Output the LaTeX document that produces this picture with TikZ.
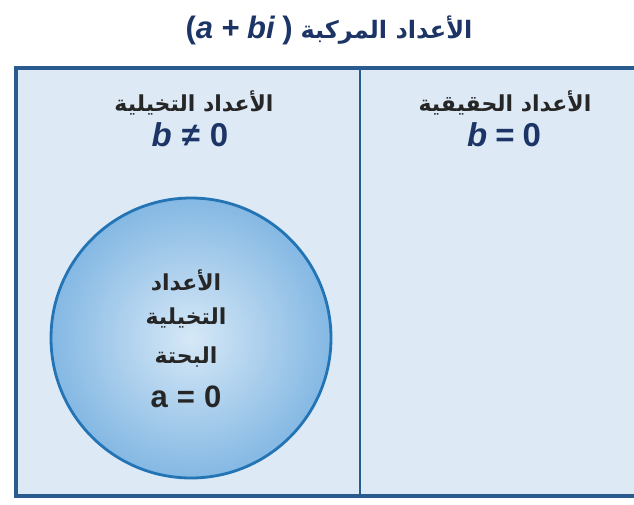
\documentclass[tikz,border=0pt]{standalone}
\usepackage{fontspec}
\setmainfont{Liberation Sans}
\newfontfamily\arabicfont[Script=Arabic]{DejaVu Sans}
\TeXXeTstate=1
\definecolor{boxfill}{HTML}{DDE9F5}
\definecolor{boxline}{HTML}{2A5B8E}
\definecolor{circline}{HTML}{2374B5}
\definecolor{circin}{HTML}{D6E8F7}
\definecolor{circout}{HTML}{84B8E3}
\definecolor{titlecol}{HTML}{1C3566}
\definecolor{txt}{HTML}{262626}
\tikzset{
  titletext/.style={text=titlecol, font=\fontsize{24}{28}\selectfont\bfseries, inner sep=0pt},
  headtext/.style={text=txt, font=\fontsize{22}{26}\selectfont\bfseries, inner sep=0pt},
  eqtext/.style={text=titlecol, font=\fontsize{33}{38}\selectfont\bfseries, inner sep=0pt},
  circtext/.style={text=txt, font=\fontsize{22}{25}\selectfont\bfseries, inner sep=0pt},
  circeq/.style={text=txt, font=\fontsize{31}{35}\selectfont\bfseries, inner sep=0pt},
  setcircle/.style={circle, draw=circline, line width=2.8pt, inner color=circin, outer color=circout, minimum size=280pt, inner sep=0pt}
}
\begin{document}
\begin{tikzpicture}[x=1pt,y=-1pt]
\useasboundingbox (0,0) rectangle (634,504);
\fill[white] (0,0) rectangle (634,504);
\node[titletext] (title) at (329,30) {{\fontsize{31}{34}\selectfont(\textit{a\hspace{8pt}+\hspace{8pt}bi}\hspace{7pt})}\hspace{8pt}{\arabicfont\beginR الأعداد المركبة\endR}};
\fill[boxfill] (16,68) rectangle (634,496);
\coordinate (tr) at (634,68);
\coordinate (tl) at (16,68);
\coordinate (bl) at (16,496);
\coordinate (br) at (634,496);
\coordinate (dt) at (360,68);
\coordinate (db) at (360,496);
\draw[boxline, line width=3.2pt] (tr) -- (tl) -- (bl) -- (br);
\draw[boxline, line width=2.6pt] (dt) -- (db);
\node[headtext] (imag) at (194,103) {\arabicfont\beginR الأعداد التخيلية\endR};
\node[eqtext] (imageq) at (190,135) {\textit{b}\hspace{10pt}≠\hspace{10pt}0};
\node[headtext] (real) at (505,103) {\arabicfont\beginR الأعداد الحقيقية\endR};
\node[eqtext] (realeq) at (504,135) {\textit{b}\hspace{8pt}=\hspace{8pt}0};
\node[setcircle] (pure) at (191,338) {};
\node[circtext] (p1) at (186,280) {\arabicfont\beginR الأعداد\endR};
\node[circtext] (p2) at (186,318) {\arabicfont\beginR التخيلية\endR};
\node[circtext] (p3) at (186,357) {\arabicfont\beginR البحتة\endR};
\node[circeq] (p4) at (186,397) {a\hspace{9pt}=\hspace{9pt}0};
\end{tikzpicture}
\end{document}
